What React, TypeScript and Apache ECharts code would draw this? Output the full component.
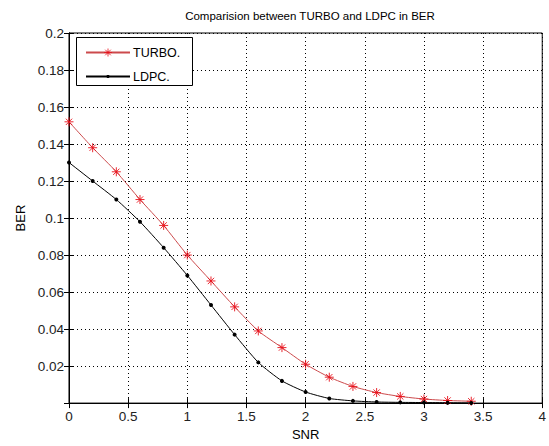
import React, { useEffect, useRef } from "react";
import * as echarts from "echarts";

const snr = [0, 0.2, 0.4, 0.6, 0.8, 1.0, 1.2, 1.4, 1.6, 1.8, 2.0, 2.2, 2.4, 2.6, 2.8, 3.0, 3.2, 3.4];
const turbo = [0.152, 0.138, 0.125, 0.110, 0.096, 0.080, 0.066, 0.052, 0.039, 0.030, 0.021, 0.014, 0.009, 0.0057, 0.0036, 0.0022, 0.0014, 0.001];
const ldpc = [0.130, 0.120, 0.110, 0.098, 0.084, 0.069, 0.053, 0.037, 0.022, 0.012, 0.006, 0.0025, 0.0012, 0.0006, 0.0004, 0.0003, 0.0002, 0.0001];

const FONT = "Liberation Sans";
const STAR = "path://M0,-10L0,10M-10,0L10,0M-7,-7L7,7M-7,7L7,-7";

export default function App() {
  const ref = useRef<HTMLDivElement>(null);
  useEffect(() => {
    if (!ref.current) return;
    const chart = echarts.init(ref.current, undefined, { renderer: "svg" });
    const fmtY = (v: number) => (Math.abs(v) < 1e-9 ? "" : String(+v.toFixed(2)));
    const fmtX = (v: number) => String(+v.toFixed(1));
    const legendText = { fontFamily: FONT, fontSize: 12.5, color: "#000", padding: [0, 0, 0, -2] };
    chart.setOption({
      animation: false,
      backgroundColor: "#fff",
      title: {
        text: "Comparision between TURBO and LDPC in BER",
        left: 305,
        top: 5,
        textAlign: "center",
        textStyle: { fontFamily: FONT, fontSize: 11.5, fontWeight: "normal", color: "#000" },
      },
      graphic: [
        {
          type: "rect",
          z: 3,
          shape: { x: 76.5, y: 37.5, width: 116, height: 48 },
          style: { fill: "#fff", stroke: "#000", lineWidth: 1 },
        },
      ],
      legend: [
        {
          left: 85,
          top: 46,
          z: 5,
          padding: 0,
          itemWidth: 44,
          itemHeight: 10,
          itemStyle: { borderWidth: 0.8 },
          textStyle: legendText,
          data: ["TURBO."],
        },
        {
          left: 85,
          top: 70,
          z: 5,
          padding: 0,
          itemWidth: 44,
          itemHeight: 4,
          textStyle: legendText,
          data: ["LDPC."],
        },
      ],
      grid: { left: 69, right: 5, top: 33, bottom: 41, show: true, borderColor: "#000", borderWidth: 1 },
      xAxis: [
        {
          type: "value",
          min: 0,
          max: 4,
          interval: 0.5,
          name: "SNR",
          nameLocation: "middle",
          nameGap: 21,
          nameTextStyle: { fontFamily: FONT, fontSize: 13, color: "#000" },
          axisLine: { lineStyle: { color: "#000" } },
          axisTick: { inside: true, length: 5, lineStyle: { color: "#000" } },
          axisLabel: { fontFamily: FONT, fontSize: 13.5, color: "#222", margin: 6, formatter: fmtX },
          splitLine: { show: true, lineStyle: { color: "#000", type: [1, 3], width: 1 } },
        },
        {
          type: "value",
          position: "top",
          min: 0,
          max: 4,
          interval: 0.5,
          axisLine: { show: true, lineStyle: { color: "#000" } },
          axisTick: { show: true, inside: true, length: 5, lineStyle: { color: "#000" } },
          axisLabel: { show: false },
          splitLine: { show: false },
        },
      ],
      yAxis: [
        {
          type: "value",
          min: 0,
          max: 0.2,
          interval: 0.02,
          name: "BER",
          nameLocation: "middle",
          nameGap: 40,
          nameTextStyle: { fontFamily: FONT, fontSize: 13, color: "#000" },
          axisLine: { show: true, lineStyle: { color: "#000" } },
          axisTick: { show: true, inside: true, length: 5, lineStyle: { color: "#000" } },
          axisLabel: { fontFamily: FONT, fontSize: 13.5, color: "#222", margin: 5, formatter: fmtY },
          splitLine: { show: true, lineStyle: { color: "#000", type: [1, 3], width: 1 } },
        },
        {
          type: "value",
          position: "right",
          min: 0,
          max: 0.2,
          interval: 0.02,
          axisLine: { show: true, lineStyle: { color: "#000" } },
          axisTick: { show: true, inside: true, length: 5, lineStyle: { color: "#000" } },
          axisLabel: { show: false },
          splitLine: { show: false },
        },
      ],
      series: [
        {
          name: "TURBO.",
          type: "line",
          data: snr.map((x, i) => [x, turbo[i]]),
          symbol: STAR,
          symbolSize: 9,
          smooth: 0.2,
          lineStyle: { color: "#cc4a4c", width: 1 },
          itemStyle: { color: "#e8101a", borderColor: "#e8101a", borderWidth: 0.9 },
        },
        {
          name: "LDPC.",
          type: "line",
          data: snr.map((x, i) => [x, ldpc[i]]),
          symbol: "circle",
          symbolSize: 4,
          smooth: 0.2,
          lineStyle: { color: "#000", width: 1 },
          itemStyle: { color: "#000" },
        },
      ],
    });
    return () => chart.dispose();
  }, []);
  return <div ref={ref} style={{ width: 549, height: 446, position: "absolute", left: 0, top: 0 }} />;
}
